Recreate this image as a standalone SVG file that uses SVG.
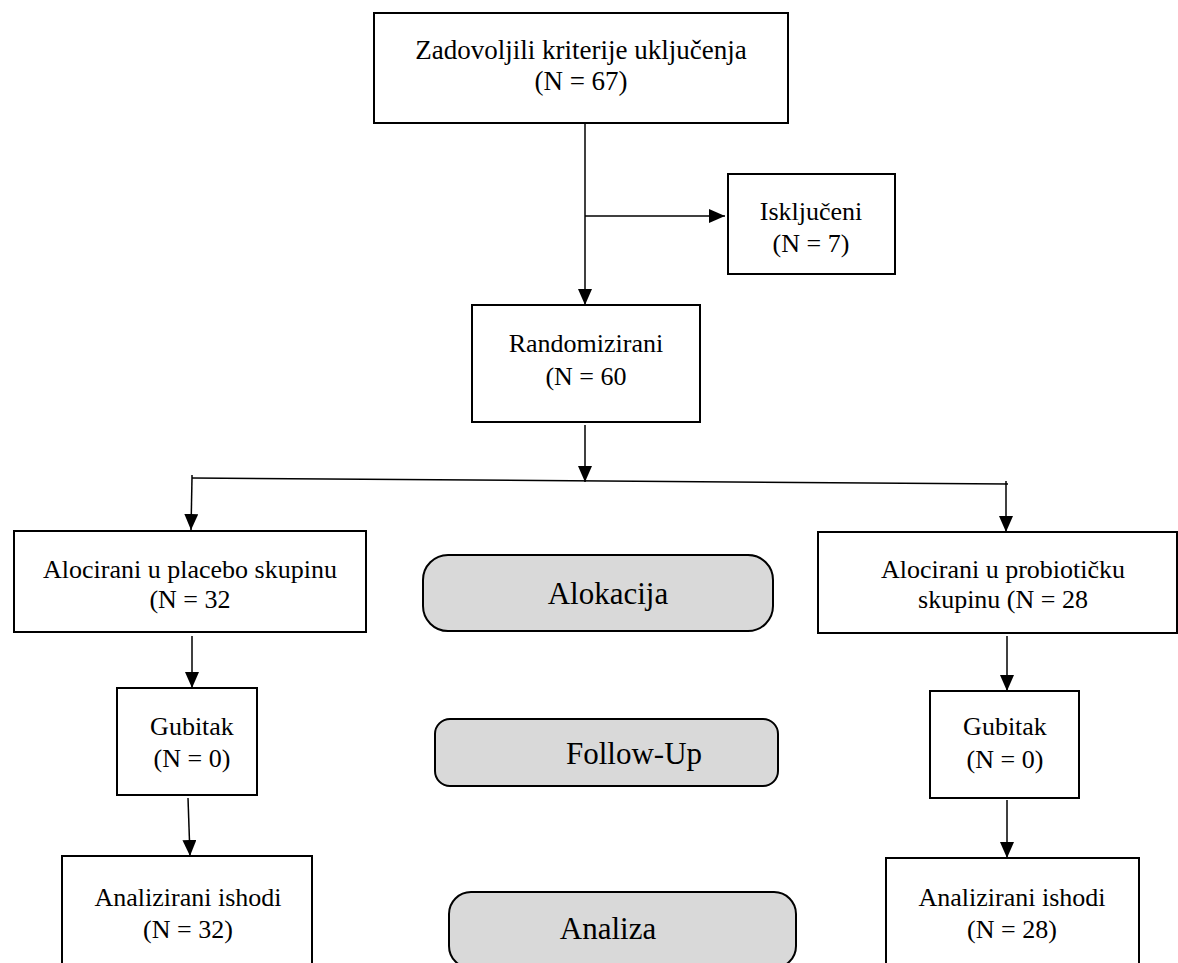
<svg xmlns="http://www.w3.org/2000/svg" width="1178" height="963" viewBox="0 0 1178 963">
<style>
.box{fill:#fff;stroke:#000;stroke-width:2}
.phase{fill:#d9d9d9;stroke:#000;stroke-width:2}
.t{font-family:"Liberation Serif","Times New Roman",serif;font-size:26px;fill:#000;text-anchor:middle}
.p{font-family:"Liberation Serif","Times New Roman",serif;font-size:31px;fill:#000;text-anchor:middle}
.c{fill:none;stroke:#000;stroke-width:1.5}
</style>
<defs>
<marker id="ah" markerUnits="userSpaceOnUse" markerWidth="16" markerHeight="14" refX="16" refY="7" viewBox="0 0 16 14" orient="auto">
<path d="M0,0 L16,7 L0,14 z" fill="#000"/>
</marker>
</defs>
<rect width="1178" height="963" fill="#fff"/>
<g id="connectors">
<path class="c" d="M585,123 V305" marker-end="url(#ah)"/>
<path class="c" d="M585,216 H725" marker-end="url(#ah)"/>
<path class="c" d="M585,425 V482" marker-end="url(#ah)"/>
<path class="c" d="M192,478 L1008,484"/>
<path class="c" d="M192,475 V478"/>
<path class="c" d="M1006,481 V484"/>
<path class="c" d="M192,478 L191,530" marker-end="url(#ah)"/>
<path class="c" d="M1006,484 V532" marker-end="url(#ah)"/>
<path class="c" d="M192,636 V688" marker-end="url(#ah)"/>
<path class="c" d="M1007,636 V691" marker-end="url(#ah)"/>
<path class="c" d="M188,798 L190,856" marker-end="url(#ah)"/>
<path class="c" d="M1007,800 V858" marker-end="url(#ah)"/>
</g>
<g id="n-zadovoljili">
<rect class="box" x="374" y="13" width="414" height="110"/>
<text class="t" x="581" y="59" style="font-size:27px">Zadovoljili kriterije uključenja</text>
<text class="t" x="581" y="90" style="font-size:27px">(N = 67)</text>
</g>
<g id="n-iskljuceni">
<rect class="box" x="728" y="174" width="167" height="100"/>
<text class="t" x="811" y="220">Isključeni</text>
<text class="t" x="811" y="252">(N = 7)</text>
</g>
<g id="n-randomizirani">
<rect class="box" x="472" y="305" width="228" height="117"/>
<text class="t" x="586" y="352">Randomizirani</text>
<text class="t" x="586" y="385">(N = 60</text>
</g>
<g id="n-placebo">
<rect class="box" x="14" y="531" width="352" height="101"/>
<text class="t" x="190" y="578">Alocirani u placebo skupinu</text>
<text class="t" x="190" y="608">(N = 32</text>
</g>
<g id="n-probiotik">
<rect class="box" x="818" y="532" width="359" height="101"/>
<text class="t" x="1003" y="578">Alocirani u probiotičku</text>
<text class="t" x="1003" y="608">skupinu (N = 28</text>
</g>
<g id="n-alokacija">
<rect class="phase" x="423" y="555" width="350" height="76" rx="25"/>
<text class="p" x="608" y="604">Alokacija</text>
</g>
<g id="n-gubitak-l">
<rect class="box" x="117" y="688" width="140" height="107"/>
<text class="t" x="192" y="735">Gubitak</text>
<text class="t" x="192" y="767">(N = 0)</text>
</g>
<g id="n-gubitak-r">
<rect class="box" x="930" y="691" width="149" height="107"/>
<text class="t" x="1005" y="735">Gubitak</text>
<text class="t" x="1005" y="768">(N = 0)</text>
</g>
<g id="n-followup">
<rect class="phase" x="435" y="719" width="343" height="67" rx="15"/>
<text class="p" x="634" y="764">Follow-Up</text>
</g>
<g id="n-analiza-l">
<rect class="box" x="62" y="856" width="250" height="120"/>
<text class="t" x="188" y="906">Analizirani ishodi</text>
<text class="t" x="188" y="938">(N = 32)</text>
</g>
<g id="n-analiza">
<rect class="phase" x="449" y="892" width="347" height="76" rx="22"/>
<text class="p" x="608" y="939">Analiza</text>
</g>
<g id="n-analiza-r">
<rect class="box" x="886" y="858" width="253" height="120"/>
<text class="t" x="1012" y="906">Analizirani ishodi</text>
<text class="t" x="1012" y="938">(N = 28)</text>
</g>
</svg>
